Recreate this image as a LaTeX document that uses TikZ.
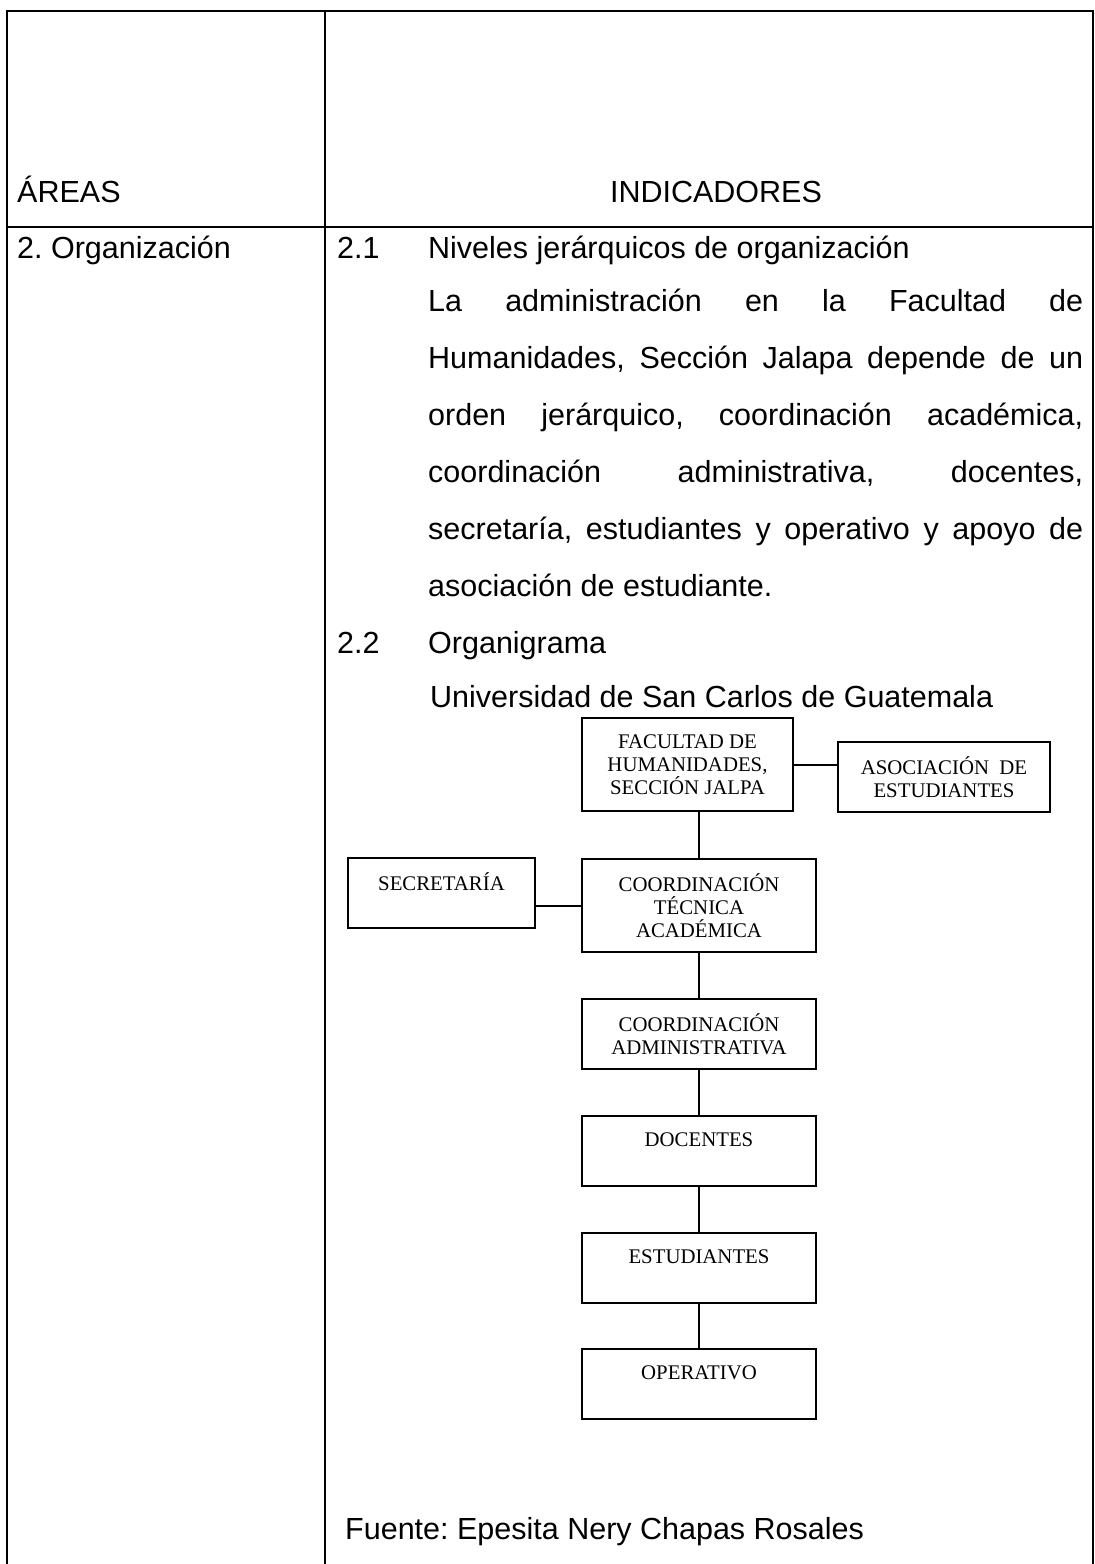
\documentclass[tikz,border=0pt]{standalone}
\usepackage{fontspec}
\setmainfont{Liberation Sans}
\newfontfamily\serifbox{Liberation Serif}
\frenchspacing
\begin{document}
\begin{tikzpicture}[x=1pt,y=-1pt,
  tbl/.style={line width=2pt},
  body/.style={font=\fontsize{30.5}{36}\selectfont, inner sep=0pt, anchor=base west},
  org/.style={draw, line width=2pt, inner sep=0pt, font=\serifbox\fontsize{20.8}{23}\selectfont, align=center},
  orgtxt/.style={inner sep=0pt, font=\serifbox\fontsize{20.8}{23}\selectfont, align=center},
  link/.style={line width=2pt}]
\useasboundingbox (0,0) rectangle (1095,1564);
% table
\draw[tbl] (7,1564) -- (7,11) -- (1093,11) -- (1093,1564);
\draw[tbl] (325,11) -- (325,1564);
\draw[tbl] (7,227) -- (1093,227);
% header
\node[body] (areas) at (17,202) {ÁREAS};
\node[inner sep=0pt, anchor=base, font=\fontsize{30.5}{36}\selectfont] (ind) at (716,202) {INDICADORES};
% row
\node[body] (org) at (17,258) {2. Organización};
\node[body] (n21) at (337,258) {2.1};
\node[body] (t21) at (428,258) {Niveles jerárquicos de organización};
\node[body] (p1) at (428,311) {\makebox[655pt][s]{La administración en la Facultad de}};
\node[body] (p2) at (428,368) {\makebox[655pt][s]{Humanidades, Sección Jalapa depende de un}};
\node[body] (p3) at (428,425) {\makebox[655pt][s]{orden jerárquico, coordinación académica,}};
\node[body] (p4) at (428,482) {\makebox[655pt][s]{coordinación administrativa, docentes,}};
\node[body] (p5) at (428,539) {\makebox[655pt][s]{secretaría, estudiantes y operativo y apoyo de}};
\node[body] (p6) at (428,596) {asociación de estudiante.};
\node[body] (n22) at (337,653) {2.2};
\node[body] (t22) at (428,653) {Organigrama};
\node[body] (usac) at (430,707) {Universidad de San Carlos de Guatemala};
\node[body] (fuente) at (345,1539) {Fuente: Epesita Nery Chapas Rosales};
% org chart
\node[org, minimum width=211pt, minimum height=93pt] (fac) at (687.5,764.5) {FACULTAD DE\\HUMANIDADES,\\SECCIÓN JALPA};
\node[org, minimum width=212pt, minimum height=70pt] (asoc) at (944,777) {ASOCIACIÓN\enspace DE\\ESTUDIANTES};
\node[org, minimum width=187pt, minimum height=70pt] (sec) at (441.5,893) {};
\node[orgtxt] (sec-t) at (441.5,882) {SECRETARÍA};
\node[org, minimum width=234pt, minimum height=93pt] (ct) at (699,905.5) {COORDINACIÓN\\TÉCNICA\\ACADÉMICA};
\node[org, minimum width=234pt, minimum height=70pt] (ca) at (699,1034) {COORDINACIÓN\\ADMINISTRATIVA};
\node[org, minimum width=234pt, minimum height=70pt] (doc) at (699,1150.5) {};
\node[orgtxt] (doc-t) at (699,1140) {DOCENTES};
\node[org, minimum width=234pt, minimum height=70pt] (est) at (699,1267.5) {};
\node[orgtxt] (est-t) at (699,1257) {ESTUDIANTES};
\node[org, minimum width=234pt, minimum height=70pt] (op) at (699,1384) {};
\node[orgtxt] (op-t) at (699,1373) {OPERATIVO};
% connectors
\draw[link] (ct.north) -- (ct.north |- fac.south);
\draw[link] (fac.east) -- (fac.east -| asoc.west);
\draw[link] (ct.west) -- (ct.west -| sec.east);
\draw[link] (ct.south) -- (ca.north);
\draw[link] (ca.south) -- (doc.north);
\draw[link] (doc.south) -- (est.north);
\draw[link] (est.south) -- (op.north);
\end{tikzpicture}
\end{document}
